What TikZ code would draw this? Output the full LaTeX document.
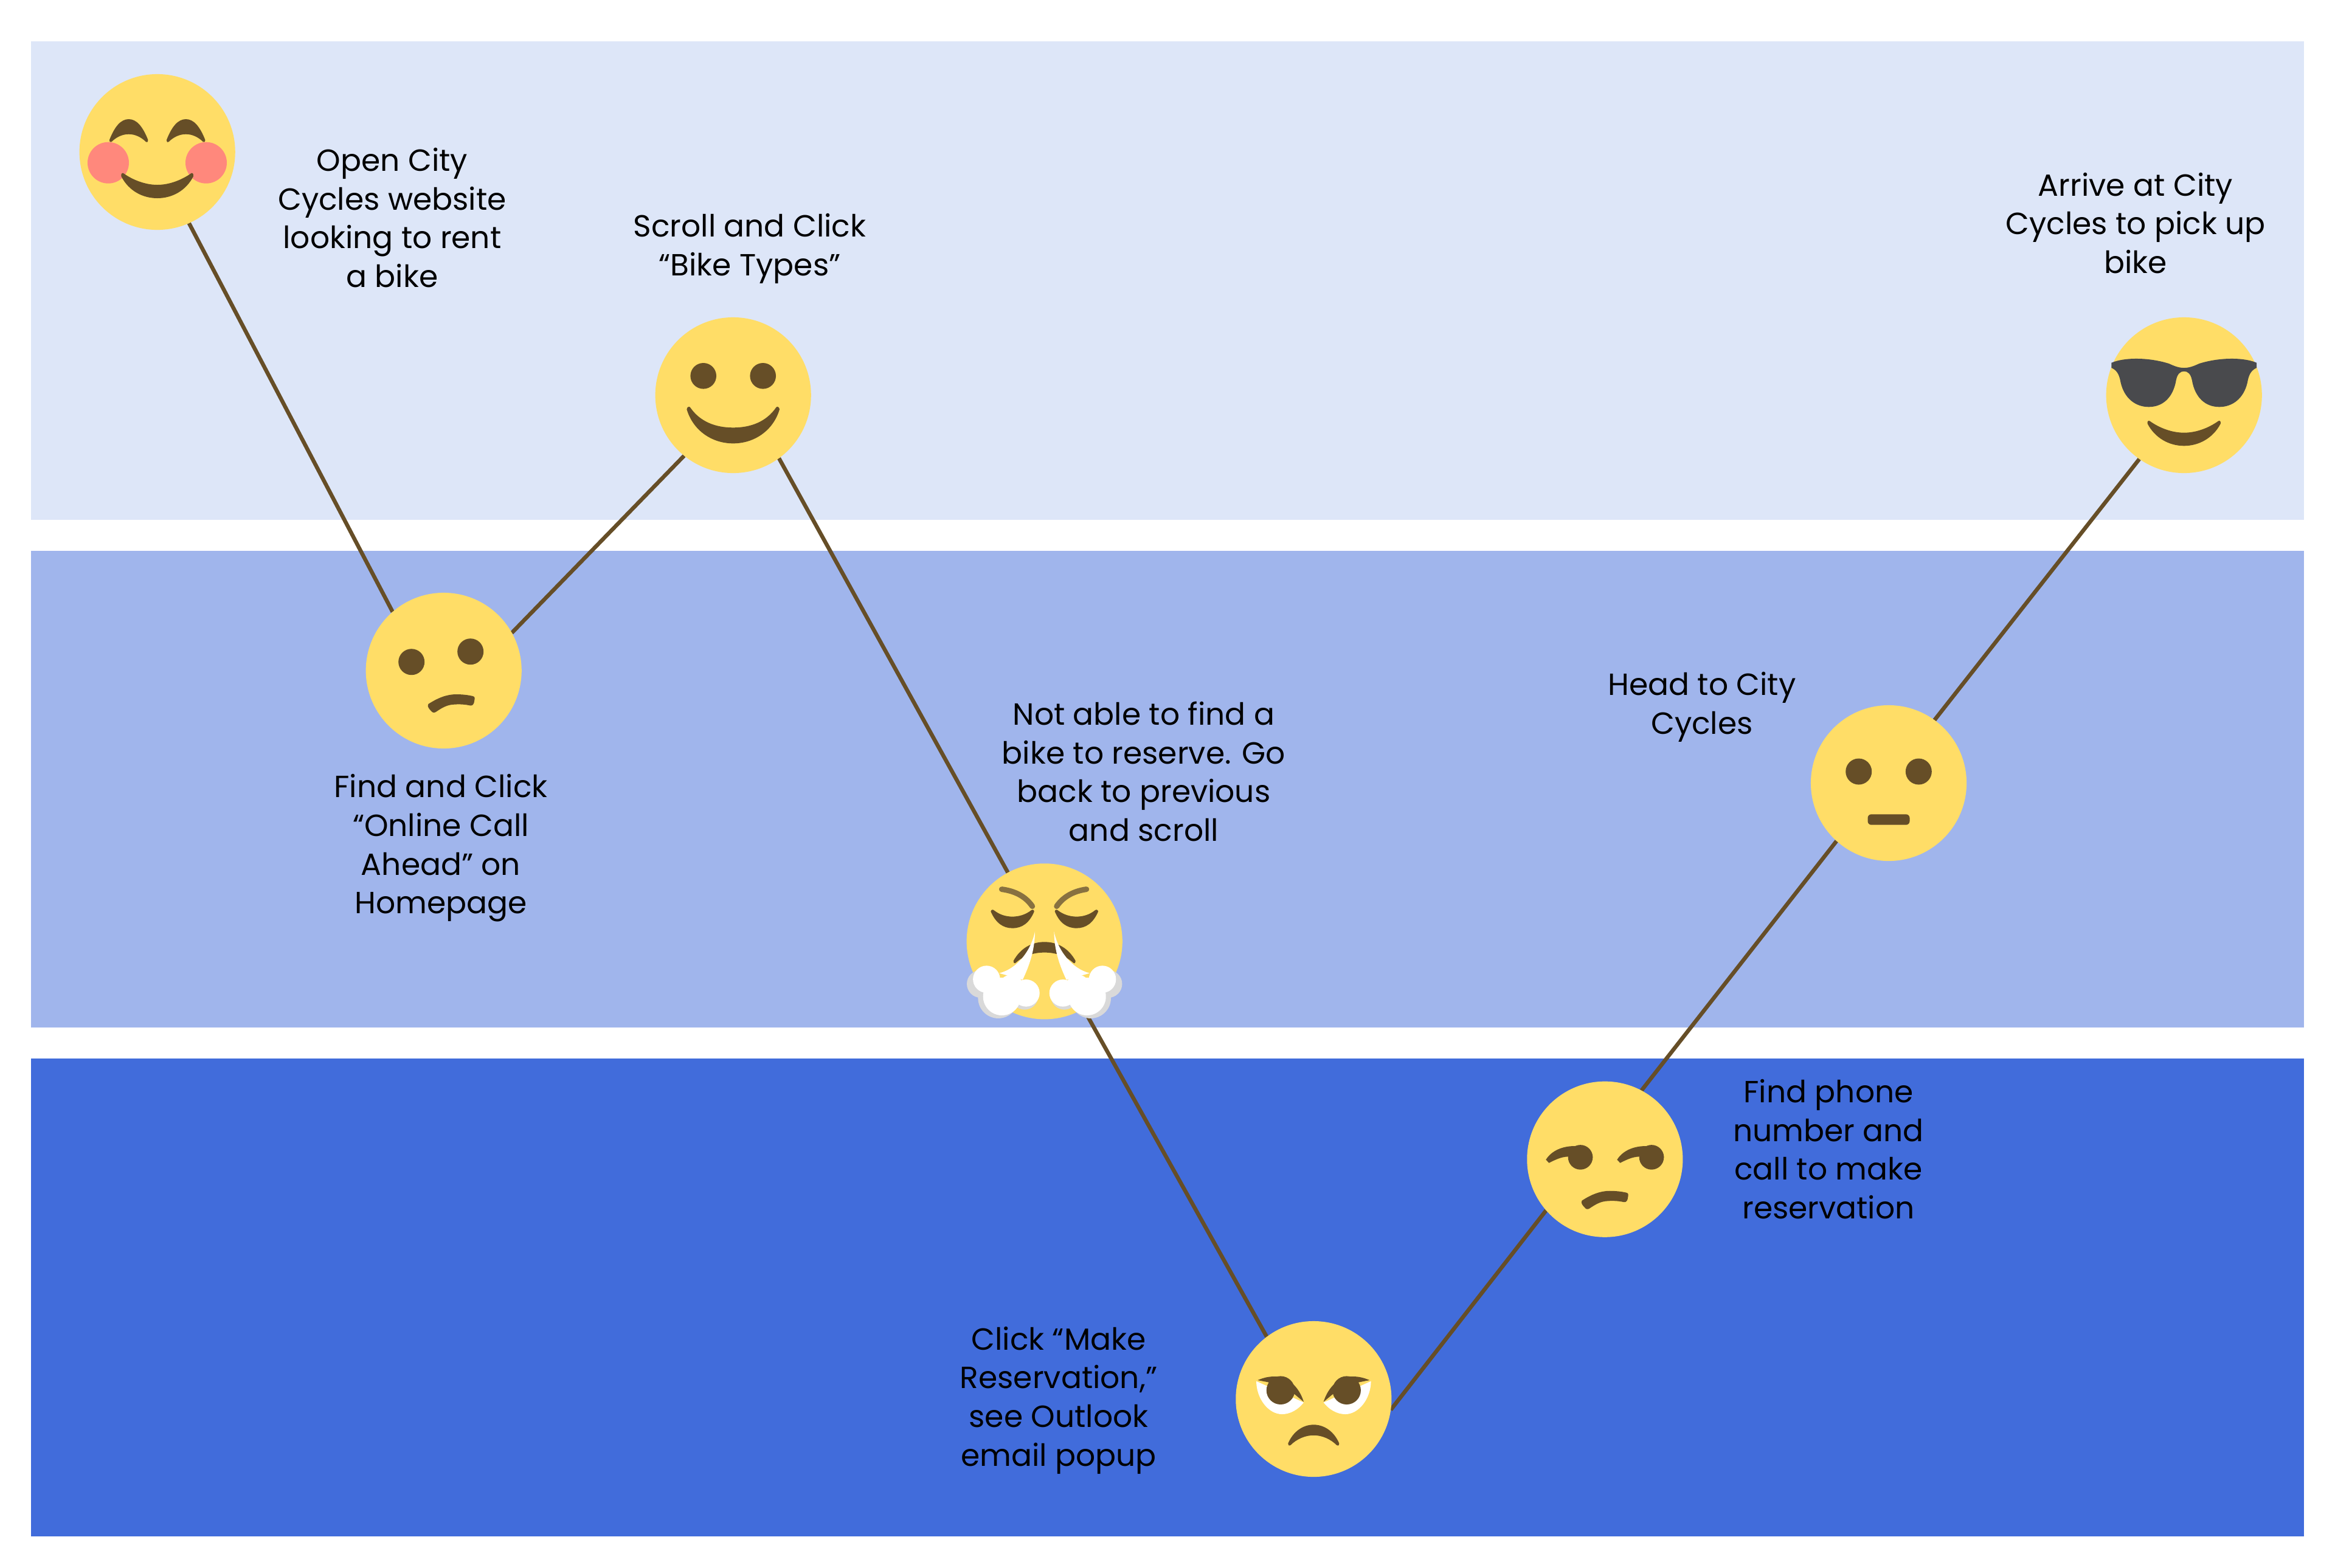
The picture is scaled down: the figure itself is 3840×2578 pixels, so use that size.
\documentclass[tikz,border=0pt]{standalone}
\usepackage{fontspec}
\setmainfont{Poppins}
\usetikzlibrary{backgrounds}
\definecolor{bandlight}{HTML}{DDE6F8}
\definecolor{bandmid}{HTML}{A0B5EC}
\definecolor{banddark}{HTML}{416CDB}
\definecolor{faceyellow}{HTML}{FFDD67}
\definecolor{facebrown}{HTML}{664E27}
\definecolor{browlight}{HTML}{887140}
\definecolor{cheekpink}{HTML}{FF887C}
\definecolor{shadesgrey}{HTML}{494A4D}
\definecolor{steamgrey}{HTML}{D9D9D9}
\begin{document}
\begin{tikzpicture}[x=0.01cm,y=-0.01cm]
\tikzstyle{face} = [circle, minimum size=2.56cm, inner sep=0pt, outer sep=0pt, fill=faceyellow]
\tikzstyle{label} = [align=center, text=black, font=\fontsize{14.3}{18.1}\selectfont]
\tikzstyle{link} = [facebrown, line width=0.065cm]
\tikzstyle{feature} = [fill=facebrown]

\useasboundingbox (0,0) rectangle (3840,2578);

%bands
\begin{scope}[on background layer]
\fill [bandlight] (51,68) rectangle (3789,855);
\fill [bandmid] (51,906) rectangle (3789,1690);
\fill [banddark] (51,1741) rectangle (3789,2527);
\end{scope}

%faces
\node (FaceA) [face] at (258.7,250) {};
\node (FaceB) [face] at (729.7,1103) {};
\node (FaceC) [face] at (1205.7,650) {};
\node (FaceD) [face] at (1717.7,1548.3) {};
\node (FaceE) [face] at (2160.3,2301) {};
\node (FaceF) [face] at (2639.3,1906.7) {};
\node (FaceG) [face] at (3106,1288) {};
\node (FaceH) [face] at (3591.7,650) {};

%labels
\node (TextA) [label] at (645,358) {Open City\\Cycles website\\looking to rent\\a bike};
\node (TextB) [label] at (725,1395) {Find and Click\\“Online Call\\Ahead” on\\Homepage};
\node (TextC) [label] at (1233,409) {Scroll and Click\\“Bike Types”};
\node (TextD) [label] at (1881,1269) {Not able to find a\\bike to reserve. Go\\back to previous\\and scroll};
\node (TextE) [label] at (1741,2303) {Click “Make\\Reservation,”\\see Outlook\\email popup};
\node (TextF) [label] at (3007,1890) {Find phone\\number and\\call to make\\reservation};
\node (TextG) [label] at (2799,1163) {Head to City\\Cycles};
\node (TextH) [label] at (3512,367) {Arrive at City\\Cycles to pick up\\bike};

%lines between faces
\begin{scope}[on background layer]
\draw [link] (FaceA.294) -- (FaceB.131);
\draw [link] (FaceB.29) -- (FaceC.231);
\draw [link] (FaceC.306) -- (FaceD.118);
\draw [link] (FaceD.300) -- (FaceE.127);
\draw [link] (FaceE.-8) -- (FaceF.221);
\draw [link] (FaceF.62) -- (FaceG.228);
\draw [link] (FaceG.54) -- (FaceH.235);
\end{scope}

%blushing face
\begin{scope}[shift={(FaceA.center)}]
\fill [cheekpink] (-80.7,17.7) circle (34);
\fill [cheekpink] (80.3,17.7) circle (34);
\fill [feature] (-78.7,-20) .. controls (-70,-42) and (-60,-54) .. (-47,-54) .. controls (-34,-54) and (-24,-42) .. (-15.3,-20) .. controls (-15,-16) and (-18,-15) .. (-18.7,-16.7) .. controls (-26,-24) and (-36,-29.3) .. (-47,-29.3) .. controls (-58,-29.3) and (-68,-24) .. (-75.3,-16.7) .. controls (-77,-15) and (-79,-17) .. cycle;
\fill [feature,xscale=-1] (-78.7,-20) .. controls (-70,-42) and (-60,-54) .. (-47,-54) .. controls (-34,-54) and (-24,-42) .. (-15.3,-20) .. controls (-15,-16) and (-18,-15) .. (-18.7,-16.7) .. controls (-26,-24) and (-36,-29.3) .. (-47,-29.3) .. controls (-58,-29.3) and (-68,-24) .. (-75.3,-16.7) .. controls (-77,-15) and (-79,-17) .. cycle;
\fill [feature] (-59.3,40) .. controls (-47,64) and (-24,76) .. (0,76) .. controls (24,76) and (47,64) .. (59.3,40) .. controls (60,35) and (57,33.5) .. (55.3,35.3) .. controls (40,46) and (20,54) .. (0,54) .. controls (-20,54) and (-40,46) .. (-55.3,35.3) .. controls (-57,33.5) and (-60,35) .. cycle;
\end{scope}

%unsure face
\begin{scope}[shift={(FaceB.center)}]
\fill [feature] (-53,-14.3) circle (21.5);
\fill [feature] (44,-31.3) circle (21.5);
\fill [feature] (-25.3,55) .. controls (-10,45) and (5,39) .. (20.3,39) .. controls (30,39) and (40,40) .. (48,42) .. controls (52,43) and (51,46) .. (50.3,50) .. controls (50,54) and (48,58) .. (44,57.5) .. controls (35,55.5) and (26,55) .. (17,55.7) .. controls (5,56) and (-4,62) .. (-13,68) .. controls (-16,70) and (-19,69) .. (-21,66) .. controls (-23,64) and (-28,59) .. cycle;
\end{scope}

%smiling face
\begin{scope}[shift={(FaceC.center)}]
\fill [feature] (-49,-31.7) circle (21.3);
\fill [feature] (49,-31.7) circle (21.3);
\fill [feature] (-76.3,23.3) .. controls (-66,58) and (-35,79.3) .. (0,79.3) .. controls (35,79.3) and (66,58) .. (76.3,23.3) .. controls (76,19) and (72,18) .. (70.7,20) .. controls (55,43) and (30,53.3) .. (0,53.3) .. controls (-30,53.3) and (-55,43) .. (-70.7,20) .. controls (-72,18) and (-76,19) .. cycle;
\end{scope}

%steaming face
\begin{scope}[shift={(FaceD.center)}]
\draw [browlight, line width=0.09cm, line cap=round] (-70.3,-85.7) .. controls (-50,-83) and (-32,-75) .. (-20,-57.7);
\draw [browlight, line width=0.09cm, line cap=round] (69,-85.7) .. controls (50,-83) and (32,-75) .. (20,-57.7);
\fill [feature] (-88.3,-49) .. controls (-80,-30) and (-68,-21.7) .. (-52.7,-21.7) .. controls (-37,-21.7) and (-25,-30) .. (-17,-49) .. controls (-17,-52) and (-20,-53) .. (-22,-51) .. controls (-31,-44) and (-42,-40.7) .. (-52.7,-40.7) .. controls (-64,-40.7) and (-74,-44) .. (-83,-51) .. controls (-85,-53) and (-88,-52) .. cycle;
\fill [feature,xscale=-1] (-88.3,-49) .. controls (-80,-30) and (-68,-21.7) .. (-52.7,-21.7) .. controls (-37,-21.7) and (-25,-30) .. (-17,-49) .. controls (-17,-52) and (-20,-53) .. (-22,-51) .. controls (-31,-44) and (-42,-40.7) .. (-52.7,-40.7) .. controls (-64,-40.7) and (-74,-44) .. (-83,-51) .. controls (-85,-53) and (-88,-52) .. cycle;
\fill [feature] (-51,32) .. controls (-40,12) and (-22,1) .. (0,1) .. controls (22,1) and (40,12) .. (51,32) .. controls (51,36) and (49,37) .. (47,35) .. controls (35,24) and (18,18.3) .. (0,18.3) .. controls (-18,18.3) and (-35,24) .. (-47,35) .. controls (-49,37) and (-51,36) .. cycle;
\fill [steamgrey] (-105,70) circle (22.7) (-76,93.3) circle (33.3) (-32.7,90) circle (22.3);
\fill [steamgrey,xscale=-1] (-105,70) circle (22.7) (-76,93.3) circle (33.3) (-32.7,90) circle (22.3);
\fill [white] (-15.7,-16) .. controls (-22,15) and (-45,45) .. (-74.3,52.3) -- (-36,63.3) .. controls (-25,40) and (-16,15) .. cycle;
\fill [white,xscale=-1] (-15.7,-16) .. controls (-22,15) and (-45,45) .. (-74.3,52.3) -- (-36,63.3) .. controls (-25,40) and (-16,15) .. cycle;
\fill [white] (-95.3,62.3) circle (22.3) (-70,90.7) circle (31) (-30.3,85) circle (22.3) (-55,75) circle (20);
\fill [white,xscale=-1] (-95.3,62.3) circle (22.3) (-70,90.7) circle (31) (-30.3,85) circle (22.3) (-55,75) circle (20);
\end{scope}

%angry face
\begin{scope}[shift={(FaceE.center)}]
\fill [white] (-94.3,-29.3) .. controls (-94,0) and (-74,25) .. (-52,25) .. controls (-38,25) and (-25,17) .. (-16.3,5.7) -- cycle;
\fill [white,xscale=-1] (-94.3,-29.3) .. controls (-94,0) and (-74,25) .. (-52,25) .. controls (-38,25) and (-25,17) .. (-16.3,5.7) -- cycle;
\fill [feature] (-54.3,-14.3) circle (23.3);
\fill [feature] (54.3,-14.3) circle (23.3);
\fill [feature] (-92,-31) .. controls (-80,-36) and (-72,-37) .. (-64,-37) .. controls (-42,-37) and (-24,-20) .. (-16.3,4.7) -- (-30.3,-7) -- (-50,-20) -- (-75.3,-27.7) -- cycle;
\fill [feature,xscale=-1] (-92,-31) .. controls (-80,-36) and (-72,-37) .. (-64,-37) .. controls (-42,-37) and (-24,-20) .. (-16.3,4.7) -- (-30.3,-7) -- (-50,-20) -- (-75.3,-27.7) -- cycle;
\fill [feature] (-42,73) .. controls (-34,54) and (-18,42.3) .. (0,42.3) .. controls (18,42.3) and (34,54) .. (42,73) .. controls (42,77) and (39,77.5) .. (38,76) .. controls (28,66) and (14,59.7) .. (0,59.7) .. controls (-14,59.7) and (-28,66) .. (-38,76) .. controls (-39,77.5) and (-42,77) .. cycle;
\end{scope}

%side eye face
\begin{scope}[shift={(FaceF.center)}]
\fill [feature] (-40.3,-3.3) circle (20.3);
\fill [feature] (76.7,-3.3) circle (20.3);
\fill [feature] (-97,0.7) .. controls (-88,-14) and (-70,-21.7) .. (-50,-21.7) .. controls (-35,-21.7) and (-20,-16) .. (-20,-3) -- (-40,-3) -- (-61,-4.3) .. controls (-72,-4) and (-82,1) .. (-92,6) -- cycle;
\fill [feature,xshift=1.17cm] (-97,0.7) .. controls (-88,-14) and (-70,-21.7) .. (-50,-21.7) .. controls (-35,-21.7) and (-20,-16) .. (-20,-3) -- (-40,-3) -- (-61,-4.3) .. controls (-72,-4) and (-82,1) .. (-92,6) -- cycle;
\fill [feature,xshift=-0.125cm,yshift=-0.13cm] (-25.3,55) .. controls (-10,45) and (5,39) .. (20.3,39) .. controls (30,39) and (40,40) .. (48,42) .. controls (52,43) and (51,46) .. (50.3,50) .. controls (50,54) and (48,58) .. (44,57.5) .. controls (35,55.5) and (26,55) .. (17,55.7) .. controls (5,56) and (-4,62) .. (-13,68) .. controls (-16,70) and (-19,69) .. (-21,66) .. controls (-23,64) and (-28,59) .. cycle;
\end{scope}

%neutral face
\begin{scope}[shift={(FaceG.center)}]
\fill [feature] (-49.3,-19) circle (21.5);
\fill [feature] (49.3,-19) circle (21.5);
\fill [feature,rounded corners=0.06cm] (-34.5,51.3) rectangle (34.5,68.7);
\end{scope}

%sunglasses face
\begin{scope}[shift={(FaceH.center)}]
\fill [shadesgrey] (-119.3,-53.3) .. controls (-100,-62) and (-60,-63) .. (-25,-52) .. controls (-14,-47) and (-8,-45) .. (0,-45) .. controls (8,-45) and (14,-47) .. (25,-52) .. controls (60,-63) and (100,-62) .. (119.3,-53.3) -- (119.3,-45) .. controls (108,-40) and (106,-30) .. (104,-20) .. controls (98,5) and (80,19.3) .. (58,19.3) .. controls (36,19.3) and (18,5) .. (13,-25) .. controls (11,-35) and (6,-39.3) .. (0,-39.3) .. controls (-6,-39.3) and (-11,-35) .. (-13,-25) .. controls (-18,5) and (-36,19.3) .. (-58,19.3) .. controls (-80,19.3) and (-98,5) .. (-104,-20) .. controls (-106,-30) and (-108,-40) .. (-119.3,-45) -- cycle;
\fill [feature] (-60,47) .. controls (-48,70) and (-25,83.3) .. (0,83.3) .. controls (25,83.3) and (48,70) .. (60,47) .. controls (61,42) and (58,41) .. (55.7,43) .. controls (40,54) and (20,61.7) .. (0,61.7) .. controls (-20,61.7) and (-40,54) .. (-55.7,43) .. controls (-58,41) and (-61,42) .. cycle;
\end{scope}
\end{tikzpicture}
\end{document}
